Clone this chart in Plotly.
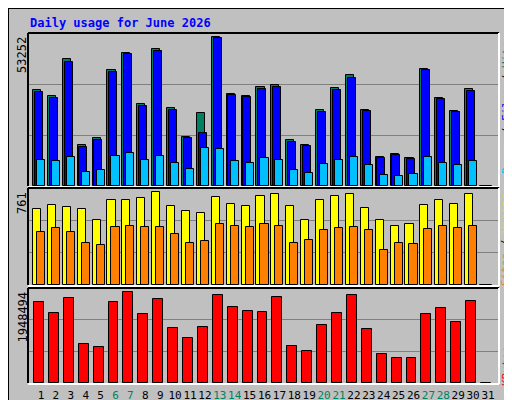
import plotly.graph_objects as go
from plotly.subplots import make_subplots

W, H = 512, 400

days = list(range(1, 32))
weekend = [6, 7, 13, 14, 20, 21, 27, 28]

hits = [34310, 32170, 45390, 14650, 17160, 41460, 47530, 29310, 48960, 27880,
        17510, 26090, 53252, 32880, 32170, 35380, 36100, 16440, 14650, 27160,
        35030, 39670, 27160, 10360, 11440, 10010, 41820, 31450, 26810, 34670, 0]
files = [33600, 31450, 44320, 13940, 16440, 40740, 47170, 28600, 48240, 27160,
         17160, 18940, 52900, 32530, 31810, 34670, 35380, 15720, 14300, 26450,
         34310, 38600, 26810, 10010, 11080, 9650, 41460, 31090, 26450, 33960, 0]
pages = [9290, 8940, 10360, 5000, 5720, 10720, 11790, 9290, 10720, 8220,
         6080, 13580, 13220, 8940, 8220, 10010, 9290, 5720, 4650, 7860,
         9290, 10360, 7510, 3930, 3570, 4290, 10360, 8220, 7510, 8940, 0]
visits = [622, 654, 638, 622, 532, 695, 695, 712, 761, 646,
          605, 589, 720, 663, 646, 728, 745, 646, 532, 695,
          728, 745, 629, 532, 482, 499, 654, 695, 663, 745, 0]
sites = [434, 466, 434, 344, 327, 474, 483, 474, 474, 417,
         344, 360, 499, 483, 474, 499, 483, 344, 368, 450,
         466, 474, 450, 286, 344, 336, 458, 483, 466, 483, 0]
kbytes = [1734000, 1499000, 1820000, 835000, 771000, 1734000, 1948494, 1477000, 1799000, 1178000,
          964000, 1199000, 1884000, 1627000, 1542000, 1520000, 1841000, 792000, 685000, 1242000,
          1499000, 1884000, 1156000, 621000, 535000, 535000, 1477000, 1606000, 1306000, 1756000, 0]

FONT = "DejaVu Sans Mono"
BG = "#C0C0C0"


def py(p):
    return 1 - p / H


def px(p):
    return p / W


# panel pixel boxes (top, bottom)
panels = [(25, 178), (180, 277), (280, 375)]
x0p, x1p = 20, 491

fig = make_subplots(rows=3, cols=1, shared_xaxes=True)

sp = 14.9
xr = [1 - (33 - x0p) / sp, 1 + (x1p - 33) / sp]


def bar(row, y, color, off, width):
    fig.add_trace(go.Bar(x=days, y=y, offset=off, width=width,
                         marker=dict(color=color, line=dict(color="black", width=1)),
                         showlegend=False), row=row, col=1)


bar(1, hits, "#008060", -0.54, 0.54)
bar(1, files, "#0000FF", -0.42, 0.54)
bar(1, pages, "#00C0FF", -0.27, 0.54)
bar(2, visits, "#FFFF00", -0.54, 0.54)
bar(2, sites, "#FF8000", -0.27, 0.54)
bar(3, kbytes, "#FF0000", -0.47, 0.67)

ranges = [53252 * 153 / 149, 761 * 97 / 93, 1948494 * 95 / 91]
maxes = [max(hits), max(visits), max(kbytes)]
for i, (top, bot) in enumerate(panels):
    n = i + 1
    fig.update_yaxes(row=n, col=1, range=[0, ranges[i]], domain=[py(bot), py(top)],
                     tickvals=[ranges[i] / 3, 2 * ranges[i] / 3], showticklabels=False,
                     gridcolor="#808080", gridwidth=1, zeroline=False, ticks="")
    fig.update_xaxes(row=n, col=1, range=xr, domain=[px(x0p), px(x1p)],
                     showgrid=False, zeroline=False, ticks="")
    fig.add_annotation(xref="paper", yref="paper", x=px(14), y=py(top + 2),
                       text=str(maxes[i]), textangle=-90, showarrow=False,
                       xanchor="center", yanchor="top",
                       font=dict(family=FONT, size=12, color="black"))
    # 3D frame lines
    fig.add_shape(type="line", xref="paper", yref="paper", x0=px(x0p), x1=px(x1p),
                  y0=py(top), y1=py(top), line=dict(color="black", width=2))
    fig.add_shape(type="line", xref="paper", yref="paper", x0=px(x0p), x1=px(x0p),
                  y0=py(top), y1=py(bot), line=dict(color="black", width=2))
    fig.add_shape(type="line", xref="paper", yref="paper", x0=px(x0p), x1=px(x1p),
                  y0=py(bot + 1), y1=py(bot + 1), line=dict(color="white", width=2))
    fig.add_shape(type="line", xref="paper", yref="paper", x0=px(x1p), x1=px(x1p),
                  y0=py(top), y1=py(bot + 1), line=dict(color="white", width=2))

ticktext = ['<span style="color:#008060">%d</span>' % d if d in weekend else str(d) for d in days]
fig.update_xaxes(row=3, col=1, tickvals=days, ticktext=ticktext, showticklabels=True,
                 tickangle=0, ticklabelstandoff=4,
                 tickfont=dict(family=FONT, size=11, color="black"))

# outer frame
fig.add_shape(type="rect", xref="paper", yref="paper", x0=0, x1=1, y0=0, y1=1,
              line=dict(color="black", width=2), layer="below")
fig.add_shape(type="line", xref="paper", yref="paper", x0=px(507), x1=px(507),
              y0=py(3), y1=py(397), line=dict(color="#808080", width=5), layer="below")
fig.add_shape(type="line", xref="paper", yref="paper", x0=px(3), x1=px(509),
              y0=py(397), y1=py(397), line=dict(color="#808080", width=5), layer="below")

fig.add_annotation(xref="paper", yref="paper", x=px(20), y=py(15), text="<b>Daily usage for June 2026</b>",
                   showarrow=False, xanchor="left", yanchor="middle",
                   font=dict(family=FONT, size=12, color="#0000FF"))

sep = '<span style="color:black"> / </span>'
labels = [
    ('<span style="color:#00C0FF">Pages</span>' + sep + '<span style="color:#0000FF">Files</span>'
     + sep + '<span style="color:#008060">Hits</span>', 100),
    ('<span style="color:#FF8000">Sites</span>' + sep + '<span style="color:#E0E000">Visits</span>', 232),
    ('<span style="color:#FF0000">KBytes</span>', 358),
]
for txt, ypos in labels:
    fig.add_annotation(xref="paper", yref="paper", x=px(498), y=py(ypos), text=txt,
                       textangle=-90, showarrow=False, xanchor="center", yanchor="middle",
                       font=dict(family=FONT, size=11))

fig.update_layout(width=W, height=H, margin=dict(l=0, r=0, t=0, b=0),
                  paper_bgcolor=BG, plot_bgcolor=BG, barmode="overlay", bargap=0)

fig.write_html("out.html")
